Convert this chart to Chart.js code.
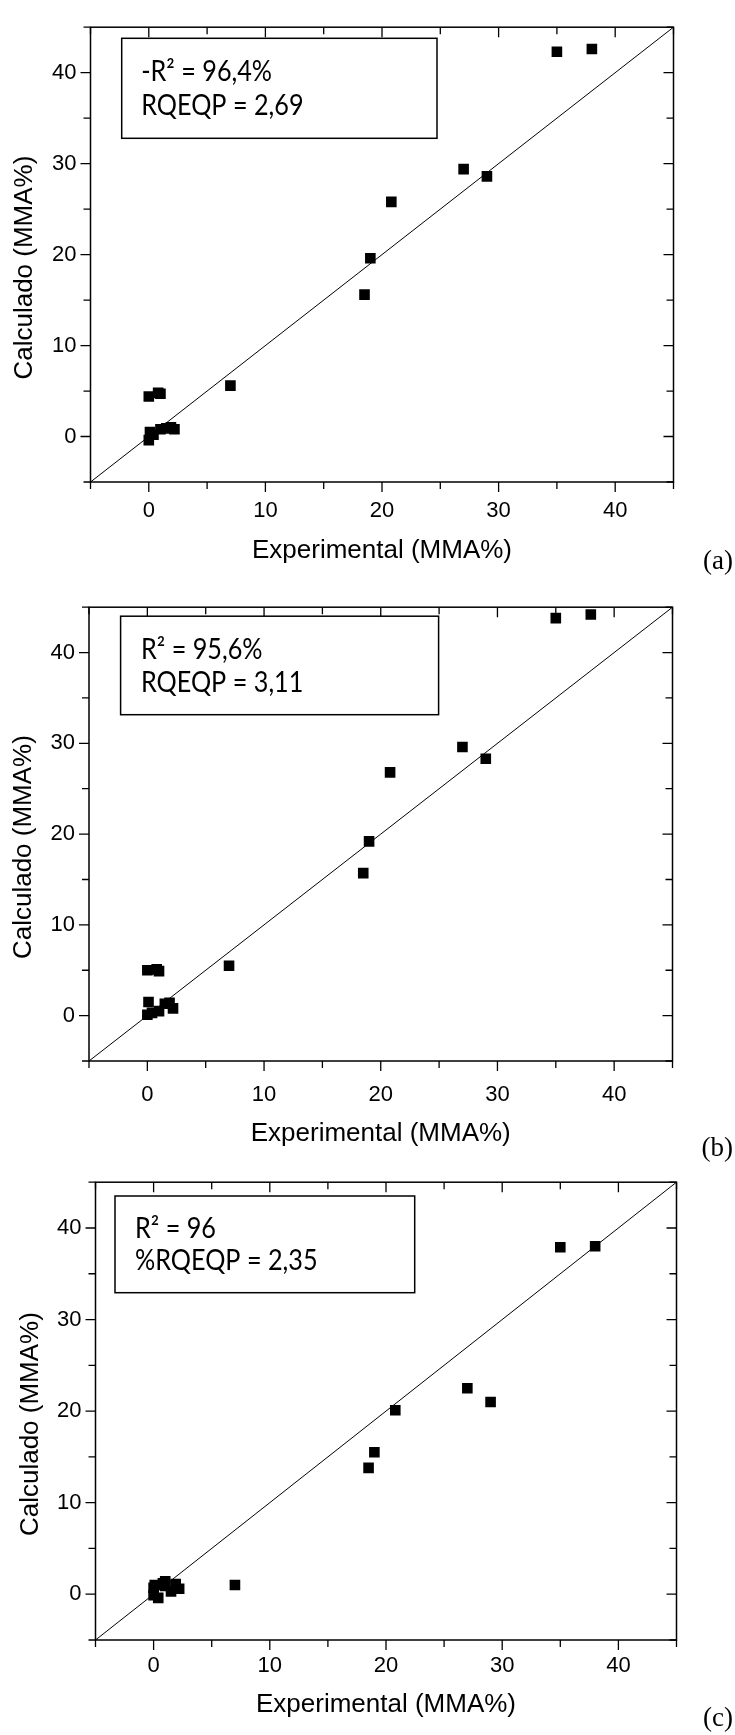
<!DOCTYPE html>
<html>
<head>
<meta charset="utf-8">
<script src="https://cdn.jsdelivr.net/npm/chart.js@4.4.1/dist/chart.umd.min.js"></script>
<style>
	body { margin: 0; background: #fff; width: 735px; height: 1735px; position: relative; overflow: hidden; }
	.panel { position: absolute; left: 0; width: 735px; }
</style>
</head>
<body>
<div class="panel" style="top:0px"><canvas id="chartA" width="735" height="580"></canvas></div>
<div class="panel" style="top:580px"><canvas id="chartB" width="735" height="590"></canvas></div>
<div class="panel" style="top:1155px"><canvas id="chartC" width="735" height="580"></canvas></div>
<script>
// experimental MMA% (shared by the three panels)
const experimental = [0, 0, 0.1, 0.4, 0.8, 1.0, 1.0, 1.5, 1.9, 2.2, 7, 18.5, 19, 20.8, 27, 29, 35, 38];
// calculated MMA% for each model
const calculadoA = [-0.4, 4.4, 0.5, 0.2, 4.8, 4.7, 0.8, 0.9, 1.0, 0.8, 5.6, 15.6, 19.6, 25.8, 29.4, 28.6, 42.3, 42.6];
const calculadoB = [0.1, 5.0, 1.5, 0.3, 5.1, 4.9, 0.5, 1.3, 1.4, 0.8, 5.5, 15.7, 19.2, 26.8, 29.6, 28.3, 43.8, 44.2];
const calculadoC = [0.7, -0.1, 1.0, -0.4, 1.2, 1.4, 0.9, 0.3, 1.1, 0.6, 1.0, 13.8, 15.5, 20.1, 22.5, 21.0, 37.9, 38.0];

const statsA = ['-R\u00B2 = 96,4%', 'RQEQP = 2,69'];
const statsB = ['R\u00B2 = 95,6%', 'RQEQP = 3,11'];
const statsC = ['R\u00B2 = 96', '%RQEQP = 2,35'];
const panelLabels = ['(a)', '(b)', '(c)'];

const axisMin = -5;
const axisMax = 45;
const tickStep = 5;
const xTitle = 'Experimental (MMA%)';
const yTitle = 'Calculado (MMA%)';

// frame with mirrored ticks, y title, stats box and panel letter
const framePlugin = {
	id: 'frame',
	afterDraw(chart, args, opts) {
		const { ctx, chartArea: a, scales: { x, y } } = chart;
		ctx.save();
		ctx.strokeStyle = '#000';
		ctx.lineWidth = 1.5;
		ctx.strokeRect(a.left, a.top, a.right - a.left, a.bottom - a.top);
		ctx.lineWidth = 1.3;
		for (let v = axisMin; v <= axisMax; v += tickStep) {
			let len = v % 10 === 0 ? 10 : 7;
			let px = x.getPixelForValue(v);
			let py = y.getPixelForValue(v);
			ctx.beginPath();
			ctx.moveTo(px, a.bottom); ctx.lineTo(px, a.bottom + len);
			ctx.moveTo(px, a.top); ctx.lineTo(px, a.top + len);
			ctx.moveTo(a.left, py); ctx.lineTo(a.left - len, py);
			ctx.moveTo(a.right, py); ctx.lineTo(a.right - len, py);
			ctx.stroke();
		}

		// y title sits a little below the middle of the axis
		ctx.fillStyle = '#000';
		ctx.save();
		ctx.translate(opts.yTitleX, (a.top + a.bottom) / 2 + 13);
		ctx.rotate(-Math.PI / 2);
		ctx.font = '26px "Liberation Sans"';
		ctx.textAlign = 'center';
		ctx.textBaseline = 'middle';
		ctx.fillText(yTitle, 0, 0);
		ctx.restore();

		let b = opts.box;
		ctx.fillStyle = '#fff';
		ctx.fillRect(b.left, b.top, b.w, b.h);
		ctx.lineWidth = 1.5;
		ctx.strokeRect(b.left, b.top, b.w, b.h);
		ctx.fillStyle = '#000';
		ctx.font = '28px Lato';
		ctx.textAlign = 'left';
		ctx.textBaseline = 'alphabetic';
		// Calibri-like narrow text: squeeze Lato horizontally
		[0.43, 0.77].forEach((f, i) => {
			ctx.save();
			ctx.translate(b.left + b.pad, b.top + f * b.h);
			ctx.scale(0.9, 1);
			ctx.fillText(opts.lines[i], 0, 0);
			ctx.restore();
		});

		ctx.font = '27px "Liberation Serif"';
		ctx.textAlign = 'right';
		ctx.textBaseline = 'middle';
		ctx.fillText(opts.label, 733, a.bottom + opts.labelOffset);
		ctx.restore();
	}
};

const makeChart = (id, calc, geo, stats, label) => {
	let ctx = document.getElementById(id).getContext('2d');
	let points = experimental.map((v, i) => ({ x: v, y: calc[i] }));
	let tickFont = { family: 'Liberation Sans', size: 22 };
	let titleFont = { family: 'Liberation Sans', size: 26 };

	return new Chart(ctx, {
		type: 'scatter',
		data: {
			datasets: [
				{
					type: 'line',
					showLine: true,
					data: [{ x: axisMin, y: axisMin }, { x: axisMax, y: axisMax }],
					borderColor: '#000',
					borderWidth: 1,
					pointRadius: 0
				},
				{
					data: points,
					pointStyle: 'rect',
					pointRadius: 7.5,
					backgroundColor: '#000',
					borderWidth: 0
				}
			]
		},
		options: {
			responsive: false,
			animation: false,
			layout: { padding: { top: geo.top, right: 735 - geo.right, left: 0, bottom: 0 } },
			plugins: {
				legend: { display: false },
				tooltip: { enabled: false },
				frame: { box: geo.box, lines: stats, label: label, labelOffset: geo.labelOffset, yTitleX: geo.yTitleX }
			},
			scales: {
				x: {
					type: 'linear',
					min: axisMin,
					max: axisMax,
					grid: { display: false, drawTicks: false },
					border: { display: false },
					ticks: {
						stepSize: tickStep,
						autoSkip: false,
						maxRotation: 0,
						padding: geo.xTickPad,
						color: '#000',
						font: tickFont,
						callback: (v) => (v % 10 === 0 ? v : '')
					},
					title: {
						display: true,
						text: xTitle,
						color: '#000',
						font: titleFont,
						padding: { top: 0, bottom: geo.h - (geo.bottom + geo.titleOffset) - 15.6 }
					},
					afterFit: (s) => { s.height = geo.h - geo.bottom; }
				},
				y: {
					type: 'linear',
					min: axisMin,
					max: axisMax,
					grid: { display: false, drawTicks: false },
					border: { display: false },
					ticks: {
						stepSize: tickStep,
						autoSkip: false,
						padding: 14,
						color: '#000',
						font: tickFont,
						callback: (v) => (v % 10 === 0 ? v : '')
					},
					afterFit: (s) => { s.width = geo.left; }
				}
			}
		},
		plugins: [framePlugin]
	});
};

makeChart('chartA', calculadoA,
	{ h: 580, left: 90.5, right: 673.5, top: 13.5, bottom: 482, yTitleX: 25,
		xTickPad: 16, titleOffset: 69, labelOffset: 80,
		box: { left: 121.7, top: 38.3, w: 315.3, h: 100, pad: 19.5 } },
	statsA, panelLabels[0]);
makeChart('chartB', calculadoB,
	{ h: 590, left: 89, right: 672.5, top: 11, bottom: 481, yTitleX: 24,
		xTickPad: 21, titleOffset: 73, labelOffset: 88,
		box: { left: 120.6, top: 36.2, w: 318, h: 98.5, pad: 20.4 } },
	statsB, panelLabels[1]);
makeChart('chartC', calculadoC,
	{ h: 580, left: 95.5, right: 676.5, top: 20, bottom: 485, yTitleX: 31,
		xTickPad: 13, titleOffset: 65, labelOffset: 79,
		box: { left: 115, top: 41, w: 299.7, h: 96.7, pad: 20 } },
	statsC, panelLabels[2]);
</script>
</body>
</html>
